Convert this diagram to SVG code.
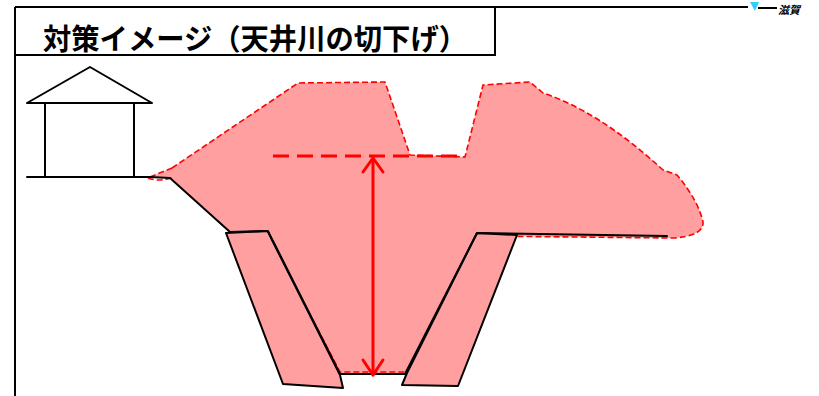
<svg xmlns="http://www.w3.org/2000/svg" width="819" height="396" viewBox="0 0 819 396">
  <style>
    .frame { stroke: #000; stroke-width: 2; fill: none; }
    .ink { stroke: #000; stroke-width: 2; fill: none; stroke-linejoin: round; stroke-linecap: round; }
    .soil { fill: #ff9f9f; stroke: none; }
    .soil-edge { fill: none; stroke: #ff0000; stroke-width: 1.6; stroke-dasharray: 6 3; stroke-linejoin: round; }
    .block { fill: #ff9f9f; stroke: #000; stroke-width: 2; stroke-linejoin: round; }
    .level { stroke: #ff0000; stroke-width: 3; stroke-dasharray: 16 8; fill: none; }
    .dim { stroke: #ff0000; stroke-width: 3; fill: none; stroke-linecap: round; stroke-linejoin: round; }
    .title { font-family: "Noto Sans CJK JP", "Liberation Sans", sans-serif; font-weight: bold; font-size: 29px; fill: #000; }
  </style>

  <!-- page frame and title box -->
  <g id="frame">
    <line class="frame" x1="15" y1="7" x2="748" y2="7"/>
    <line class="frame" x1="758" y1="8" x2="777" y2="8"/>
    <line class="frame" x1="15" y1="7" x2="15" y2="396"/>
    <polyline class="frame" points="15,55 495,55 495,7"/>
    <polygon points="750,2 759,2 755,11" fill="#33ccff"/>
    <text x="778" y="14" font-family="Noto Sans CJK JP, sans-serif" font-weight="bold" font-size="11" font-style="italic" fill="#000">滋賀</text>
  </g>
  <g id="title">
    <text class="title" x="43" y="50" textLength="424" lengthAdjust="spacingAndGlyphs">対策イメージ（天井川の切下げ）</text>
  </g>

  <!-- house beside the river -->
  <g id="house">
    <polyline class="ink" points="27,103 90,67 152,103 27,103"/>
    <line class="ink" x1="45" y1="103" x2="45" y2="177"/>
    <line class="ink" x1="134" y1="103" x2="134" y2="177"/>
  </g>

  <!-- excavated soil (area cut down) -->
  <g id="cut-area">
    <path class="soil" d="M148,178 L172,168 L298,83 L385,82 L410,155 L465,157 L483,85 L530,82 L543,93 Q600,112 663,170 L677,175 Q698,200 703,222 Q704,236 673,238 L477,236 L405,374 L340,374 L268,233 L230,233 L170,178 Z"/>
    <path class="soil-edge" d="M148,178 Q158,182 172,178 M172,168 L298,83 L385,82 L410,155 L465,157 L483,85 L530,82 L543,93 Q600,112 663,170 L677,175 Q698,200 703,222 Q704,236 673,238 L477,236"/>
    <path class="soil-edge" d="M150,177 L172,168 M230,235 L268,234 L340,372 L410,372"/>
  </g>

  <!-- channel revetment blocks -->
  <g id="left-block">
    <path class="block" d="M226,233 L268,231 L272,240 L340,375 L343,388 L283,384 Z"/>
  </g>
  <g id="right-block">
    <path class="block" d="M477,233 L517,235 L458,386 L402,385 L407,373 Z"/>
  </g>

  <!-- ground and channel bed lines -->
  <g id="connectors">
    <polyline class="ink" points="27,177 150,177 170,178 230,232 267,231"/>
    <polyline class="ink" points="268,232 273,241 340,374 405,374 477,233 667,236"/>
    <!-- former bed level and cut depth -->
    <line class="level" x1="273" y1="156" x2="465" y2="156"/>
    <line class="dim" x1="373" y1="158" x2="373" y2="375"/>
    <polyline class="dim" points="363,172 373,158 383,172"/>
    <polyline class="dim" points="363,360 373,375 383,360"/>
  </g>
</svg>
